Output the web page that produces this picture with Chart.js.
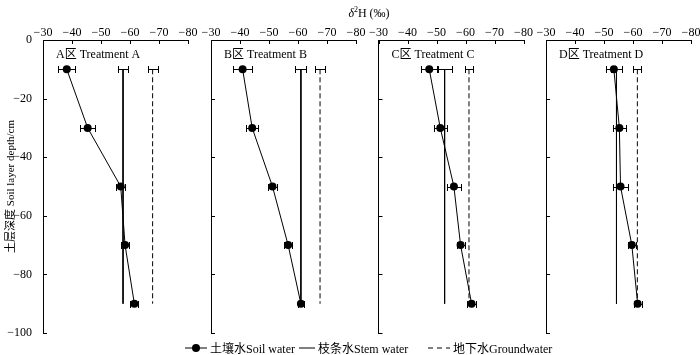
<!DOCTYPE html>
<html lang="zh">
<head>
  <meta charset="UTF-8" />
  <title>δ2H soil / stem / groundwater</title>
  <script src="https://cdn.jsdelivr.net/npm/chart.js"></script>
  <style>
    body { margin: 0; background: white; }
    #wrap { position: relative; width: 700px; height: 355px; overflow: hidden;
            font-family: "Liberation Serif", "Noto Sans CJK SC", serif; color: #000; }
    #wrap canvas { position: absolute; left: 0; top: 0; }
    #title { position: absolute; top: 5px; left: 369px; transform: translateX(-50%); font-size: 12px; white-space: nowrap; }
    #title sup { font-size: 8px; vertical-align: 5px; }
    .leg { position: absolute; top: 339px; font-size: 12px; white-space: nowrap; display: flex; align-items: center; }
    .leg svg { margin-right: 3px; }
  </style>
</head>
<body>
  <div id="wrap">
    <canvas id="pA" width="700" height="355"></canvas>
    <canvas id="pB" width="700" height="355"></canvas>
    <canvas id="pC" width="700" height="355"></canvas>
    <canvas id="pD" width="700" height="355"></canvas>
    <div id="title"><i>δ</i><sup>2</sup>H (‰)</div>
    <div class="leg" style="left:185px">
      <svg width="22" height="10"><line x1="0" y1="5" x2="22" y2="5" stroke="#000" stroke-width="1"/><circle cx="11" cy="5" r="4" fill="#000"/></svg>土壤水Soil water
    </div>
    <div class="leg" style="left:299px">
      <svg width="16" height="10"><line x1="0" y1="5" x2="16" y2="5" stroke="#000" stroke-width="1"/></svg>枝条水Stem water
    </div>
    <div class="leg" style="left:428px">
      <svg width="22" height="10"><line x1="0" y1="5" x2="22" y2="5" stroke="#000" stroke-width="1" stroke-dasharray="5,4"/></svg>地下水Groundwater
    </div>
  </div>

  <script>
    // soil sampling depths (cm)
    const depths = [-10, -30, -50, -70, -90];
    const panelLabels = ['A区 Treatment A', 'B区 Treatment B', 'C区 Treatment C', 'D区 Treatment D'];

    // soil water δ2H and its error per treatment
    const soilA = [-38.2, -45.4, -56.8, -58.3, -61.5];
    const soilErrA = [2.9, 2.6, 1.6, 1.3, 1.4];
    const soilB = [-40.9, -44.2, -51.2, -56.6, -61.0];
    const soilErrB = [3.2, 2.1, 1.4, 1.5, 1.1];
    const soilC = [-47.5, -51.3, -56.0, -58.3, -62.1];
    const soilErrC = [3.0, 2.3, 2.5, 1.4, 1.5];
    const soilD = [-53.4, -55.3, -55.7, -59.6, -61.6];
    const soilErrD = [2.8, 2.3, 2.6, 1.4, 1.4];

    // stem water and groundwater (one value per treatment)
    const stem = [-57.6, -61.0, -52.8, -54.3];
    const stemErr = [1.7, 1.9, 2.6, 2.0];
    const ground = [-67.8, -67.6, -61.2, -61.5];
    const groundErr = [1.7, 1.7, 1.3, 1.4];

    const xTicks = [-30, -40, -50, -60, -70, -80];
    const yTicks = [0, -20, -40, -60, -80, -100];

    const soil = [soilA, soilB, soilC, soilD];
    const soilErr = [soilErrA, soilErrB, soilErrC, soilErrD];

    // panel placement in the 700x355 picture
    const panelLeft = [43, 211, 378.5, 546];
    const panelWidth = 145;
    const plotTop = 40, plotBottom = 333;
    const FONT = '"Liberation Serif", "Noto Sans CJK SC", serif';
    const minus = v => (v < 0 ? '\u2212' + Math.abs(v) : String(v));

    // little inward tick marks
    const inTicks = {
      id: 'inTicks',
      afterDraw(chart) {
        const { ctx, chartArea, scales } = chart;
        ctx.save();
        ctx.strokeStyle = '#000';
        ctx.lineWidth = 1;
        ctx.beginPath();
        xTicks.forEach(v => {
          const px = Math.round(scales.x.getPixelForValue(v)) + 0.5;
          ctx.moveTo(px, chartArea.top);
          ctx.lineTo(px, chartArea.top + 4);
        });
        yTicks.forEach(v => {
          const py = Math.round(scales.y.getPixelForValue(v)) + 0.5;
          ctx.moveTo(chartArea.left, py);
          ctx.lineTo(chartArea.left + 4, py);
        });
        ctx.stroke();
        ctx.restore();
      }
    };

    // horizontal error bars with caps
    const errBars = {
      id: 'errBars',
      afterDatasetsDraw(chart) {
        const { ctx, scales } = chart;
        ctx.save();
        ctx.strokeStyle = '#000';
        ctx.lineWidth = 1;
        ctx.setLineDash([]);
        chart.data.datasets.forEach(ds => {
          if (!ds.errors) return;
          ds.data.forEach((p, i) => {
            const e = ds.errors[i];
            if (!e) return;
            const y = Math.round(scales.y.getPixelForValue(p.y)) + 0.5;
            const x1 = Math.round(scales.x.getPixelForValue(p.x - e)) + 0.5;
            const x2 = Math.round(scales.x.getPixelForValue(p.x + e)) + 0.5;
            ctx.beginPath();
            ctx.moveTo(x1, y); ctx.lineTo(x2, y);
            ctx.moveTo(x1, y - 3.5); ctx.lineTo(x1, y + 3.5);
            ctx.moveTo(x2, y - 3.5); ctx.lineTo(x2, y + 3.5);
            ctx.stroke();
          });
        });
        ctx.restore();
      }
    };

    const panelText = {
      id: 'panelText',
      afterDraw(chart, args, opts) {
        const { ctx, chartArea } = chart;
        ctx.save();
        ctx.fillStyle = '#000';
        ctx.font = '12px ' + FONT;
        ctx.textBaseline = 'middle';
        ctx.fillText(opts.text, chartArea.left + 13, chartArea.top + 15);
        ctx.restore();
      }
    };

    function makePanel(id, k) {
      const first = k === 0;
      const yw = first ? 43 : 20;
      new Chart(document.getElementById(id), {
        type: 'scatter',
        data: {
          datasets: [
            {
              label: 'Soil water',
              data: depths.map((d, i) => ({ x: soil[k][i], y: d })),
              errors: soilErr[k],
              showLine: true,
              borderColor: '#000',
              borderWidth: 1,
              backgroundColor: '#000',
              pointRadius: 4,
              pointBorderWidth: 0
            },
            {
              label: 'Stem water',
              data: [{ x: stem[k], y: depths[0] }, { x: stem[k], y: depths[4] }],
              errors: [stemErr[k], 0],
              showLine: true,
              borderColor: '#000',
              borderWidth: 1,
              pointRadius: 0
            },
            {
              label: 'Groundwater',
              data: [{ x: ground[k], y: depths[0] }, { x: ground[k], y: depths[4] }],
              errors: [groundErr[k], 0],
              showLine: true,
              borderColor: '#000',
              borderWidth: 1,
              borderDash: [5, 3],
              pointRadius: 0
            }
          ]
        },
        options: {
          responsive: false,
          animation: false,
          events: [],
          layout: {
            padding: {
              left: panelLeft[k] - yw,
              right: 700 - panelLeft[k] - panelWidth,
              top: 0,
              bottom: 355 - plotBottom
            }
          },
          plugins: {
            legend: { display: false },
            tooltip: { enabled: false },
            panelText: { text: panelLabels[k] }
          },
          scales: {
            x: {
              type: 'linear',
              position: 'top',
              min: -80,
              max: -30,
              reverse: true,
              afterFit: s => { s.height = plotTop; },
              afterBuildTicks: s => { s.ticks = xTicks.map(v => ({ value: v })); },
              grid: { display: false },
              border: { display: true, color: '#000', width: 1 },
              ticks: {
                color: '#000',
                padding: -8,
                maxRotation: 0,
                font: { family: FONT, size: 12 },
                callback: v => minus(v)
              }
            },
            y: {
              type: 'linear',
              position: 'left',
              min: -100,
              max: 0,
              afterFit: s => { s.width = yw; },
              afterBuildTicks: s => { s.ticks = yTicks.map(v => ({ value: v })); },
              grid: { display: false },
              border: { display: true, color: '#000', width: 1 },
              title: {
                display: first,
                text: '土层深度 Soil layer depth/cm',
                color: '#000',
                padding: { top: 5, bottom: 0 },
                font: { family: FONT, size: 11 }
              },
              ticks: {
                display: first,
                color: '#000',
                padding: 3,
                font: { family: FONT, size: 12 },
                callback: v => minus(v)
              }
            }
          }
        },
        plugins: [errBars, inTicks, panelText]
      });
    }

    ['pA', 'pB', 'pC', 'pD'].forEach((id, k) => makePanel(id, k));
  </script>
</body>
</html>
